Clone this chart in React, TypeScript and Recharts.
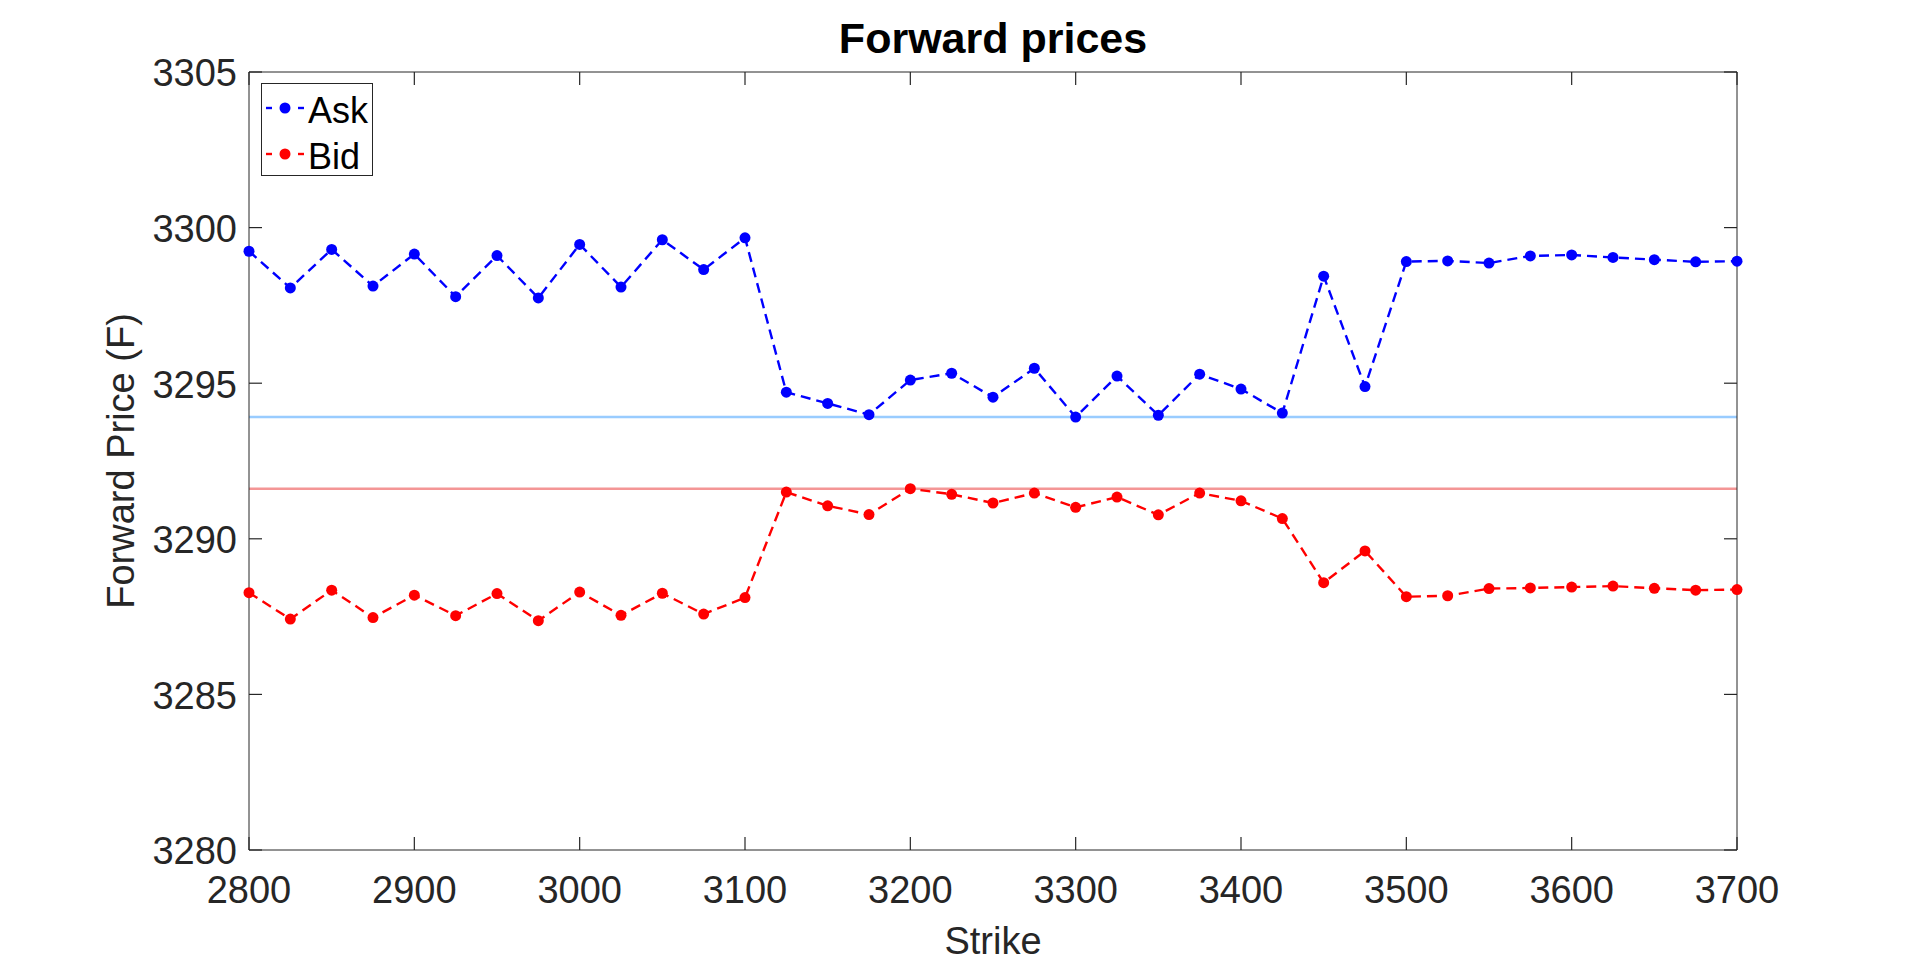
import { LineChart, Line, XAxis, YAxis, ReferenceLine, Legend } from "recharts"

// strikes and quoted forward prices
const strikes = [
  2800, 2825, 2850, 2875, 2900, 2925, 2950, 2975, 3000, 3025, 3050, 3075, 3100,
  3125, 3150, 3175, 3200, 3225, 3250, 3275, 3300, 3325, 3350, 3375, 3400,
  3425, 3450, 3475, 3500, 3525, 3550, 3575, 3600, 3625, 3650, 3675, 3700,
]

const askPrices = [
  3299.24, 3298.06, 3299.3, 3298.12, 3299.15, 3297.78, 3299.1, 3297.74, 3299.46, 3298.09, 3299.61, 3298.65, 3299.67,
  3294.71, 3294.35, 3293.99, 3295.1, 3295.32, 3294.55, 3295.48, 3293.91, 3295.23, 3293.97, 3295.29, 3294.81,
  3294.04, 3298.44, 3294.89, 3298.91, 3298.93, 3298.86, 3299.09, 3299.12, 3299.04, 3298.97, 3298.9, 3298.92,
]

const bidPrices = [
  3288.27, 3287.42, 3288.35, 3287.47, 3288.19, 3287.53, 3288.24, 3287.37, 3288.29, 3287.54, 3288.25, 3287.58, 3288.11,
  3291.5, 3291.06, 3290.78, 3291.61, 3291.43, 3291.15, 3291.47, 3291.01, 3291.34, 3290.77, 3291.47, 3291.22,
  3290.65, 3288.59, 3289.61, 3288.14, 3288.17, 3288.4, 3288.42, 3288.45, 3288.48, 3288.41, 3288.35, 3288.37,
]

const xTicks = [2800, 2900, 3000, 3100, 3200, 3300, 3400, 3500, 3600, 3700]
const yTicks = [3280, 3285, 3290, 3295, 3300, 3305]

const data = strikes.map((strike, i) => ({ strike, ask: askPrices[i], bid: bidPrices[i] }))

// horizontal guides: lowest ask and highest bid
const askFloor = Math.min(...askPrices)
const bidCeiling = Math.max(...bidPrices)

const AXIS = "#262626"
const FONT = '"Liberation Sans", Arial, Helvetica, sans-serif'
const TICK_LEN = 13
const X_GAP = 26
const Y_GAP = 12

// matlab style ticks: marks point into the plot, labels sit outside
function BottomTick({ x, y, payload }: any) {
  const base = y - X_GAP
  return (
    <g>
      <line x1={x} x2={x} y1={base} y2={base - TICK_LEN} stroke={AXIS} strokeWidth={1.2} />
      <text x={x} y={y} dy="0.71em" textAnchor="middle" fontSize={38} fill={AXIS}>
        {payload.value}
      </text>
    </g>
  )
}

function LeftTick({ x, y, payload }: any) {
  const base = x + Y_GAP
  return (
    <g>
      <line x1={base} x2={base + TICK_LEN} y1={y} y2={y} stroke={AXIS} strokeWidth={1.2} />
      <text x={x} y={y} dy="0.38em" textAnchor="end" fontSize={38} fill={AXIS}>
        {payload.value}
      </text>
    </g>
  )
}

function TopTick({ x, y }: any) {
  return <line x1={x} x2={x} y1={y} y2={y + TICK_LEN} stroke={AXIS} strokeWidth={1.2} />
}

function RightTick({ x, y }: any) {
  return <line x1={x} x2={x - TICK_LEN} y1={y} y2={y} stroke={AXIS} strokeWidth={1.2} />
}

function LegendBox(props: any) {
  const items = props.payload || []
  return (
    <div
      style={{
        border: `1.5px solid ${AXIS}`,
        background: "#fff",
        width: 112,
        height: 93,
        boxSizing: "border-box",
        paddingTop: 1,
        paddingLeft: 4,
      }}
    >
      {items.map((entry: any) => (
        <div key={entry.value} style={{ display: "flex", alignItems: "center", height: 46 }}>
          <svg width={42} height={20} style={{ flex: "none" }}>
            <line x1={0} y1={10} x2={6} y2={10} stroke={entry.color} strokeWidth={2.4} />
            <circle cx={19} cy={10} r={5.5} fill={entry.color} />
            <line x1={32} y1={10} x2={38} y2={10} stroke={entry.color} strokeWidth={2.4} />
          </svg>
          <span style={{ fontSize: 36, lineHeight: "46px", color: "#000", position: "relative", top: 3 }}>
            {entry.value}
          </span>
        </div>
      ))}
    </div>
  )
}

export default function App() {
  return (
    <div
      style={{
        position: "absolute",
        left: 0,
        top: 0,
        width: 1920,
        height: 963,
        background: "#fff",
        fontFamily: FONT,
      }}
    >
      <LineChart width={1920} height={963} data={data} margin={{ top: 71, right: 182, bottom: 0, left: 0 }}>
        <XAxis
          dataKey="strike"
          type="number"
          domain={[2800, 3700]}
          ticks={xTicks}
          height={113}
          stroke={AXIS}
          tickLine={false}
          tickSize={0}
          tickMargin={X_GAP}
          tick={BottomTick}
          label={{ value: "Strike", position: "insideBottom", offset: 9, fontSize: 38, fill: AXIS }}
        />
        <XAxis
          xAxisId="top"
          orientation="top"
          dataKey="strike"
          type="number"
          domain={[2800, 3700]}
          allowDataOverflow
          ticks={xTicks}
          height={1}
          stroke={AXIS}
          tickLine={false}
          tickSize={0}
          tickMargin={0}
          tick={TopTick}
          label={{ value: "Forward prices", position: "top", offset: 18, fontSize: 43, fontWeight: 700, fill: "#000" }}
        />
        <YAxis
          type="number"
          domain={[3280, 3305]}
          ticks={yTicks}
          width={249}
          stroke={AXIS}
          tickLine={false}
          tickSize={0}
          tickMargin={Y_GAP}
          tick={LeftTick}
          label={{
            value: "Forward Price (F)",
            angle: -90,
            position: "insideLeft",
            offset: 121,
            fontSize: 38,
            fill: AXIS,
            style: { textAnchor: "middle" },
          }}
        />
        <YAxis
          yAxisId="right"
          orientation="right"
          type="number"
          domain={[3280, 3305]}
          allowDataOverflow
          ticks={yTicks}
          width={1}
          stroke={AXIS}
          tickLine={false}
          tickSize={0}
          tickMargin={0}
          tick={RightTick}
        />
        <ReferenceLine y={askFloor} stroke="#99ccff" strokeWidth={2.5} />
        <ReferenceLine y={bidCeiling} stroke="#f49696" strokeWidth={2.5} />
        <Line
          type="linear"
          dataKey="ask"
          name="Ask"
          stroke="#0000ff"
          strokeWidth={2.4}
          strokeDasharray="10 6"
          dot={{ r: 5.5, fill: "#0000ff", stroke: "none", strokeDasharray: "0" }}
          activeDot={false}
          isAnimationActive={false}
        />
        <Line
          type="linear"
          dataKey="bid"
          name="Bid"
          stroke="#ff0000"
          strokeWidth={2.4}
          strokeDasharray="10 6"
          dot={{ r: 5.5, fill: "#ff0000", stroke: "none", strokeDasharray: "0" }}
          activeDot={false}
          isAnimationActive={false}
        />
        <Legend
          layout="vertical"
          align="center"
          verticalAlign="middle"
          content={LegendBox}
          wrapperStyle={{ left: 261, top: 83, width: 112, height: 93 }}
        />
      </LineChart>
    </div>
  )
}
